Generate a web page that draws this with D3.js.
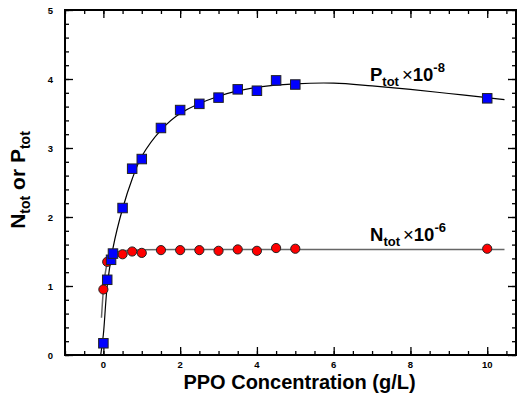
<!DOCTYPE html>
<html>
<head>
<meta charset="utf-8">
<script src="https://cdn.jsdelivr.net/npm/d3@7"></script>
<style>
    body { margin: 0; background: #fff; }
    svg text { font-family: "Liberation Sans", Arial, sans-serif; font-weight: bold; }
</style>
</head>
<body>
<div id="chart"></div>
<script>
// data
const pConc = [0, 0.1, 0.2, 0.25, 0.5, 0.75, 1, 1.5, 2, 2.5, 3, 3.5, 4, 4.5, 5, 10];
const pTot = [0.17, 1.09, 1.38, 1.47, 2.13, 2.70, 2.84, 3.29, 3.55, 3.64, 3.73, 3.85, 3.83, 3.98, 3.92, 3.72];

const nConc = [0, 0.1, 0.5, 0.75, 1, 1.5, 2, 2.5, 3, 3.5, 4, 4.5, 5, 10];
const nTot = [0.95, 1.35, 1.46, 1.50, 1.48, 1.52, 1.52, 1.52, 1.51, 1.53, 1.51, 1.55, 1.54, 1.54];

// fitted curves
const pFitX = [-0.07, 0, 0.1, 0.25, 0.5, 0.75, 1, 1.5, 2, 3, 4, 5, 6, 7, 8, 9, 10, 10.45];
const pFitY = [0, 0.3, 1.0, 1.55, 2.12, 2.55, 2.88, 3.26, 3.5, 3.75, 3.88, 3.93, 3.94, 3.9, 3.85, 3.79, 3.73, 3.70];

const nFitX = [-0.05, 0, 0.1, 0.2, 0.3, 0.5, 1, 2, 5, 10.45];
const nFitY = [0.54, 0.95, 1.33, 1.44, 1.48, 1.51, 1.525, 1.53, 1.53, 1.53];

const xMajor = [0, 2, 4, 6, 8, 10];
const xMinor = d3.range(-1, 10.75, 0.5);
const yMajor = [0, 1, 2, 3, 4, 5];
const yMinor = d3.range(0, 5.01, 0.2);

const svgWidth = 525, svgHeight = 397;
const margin = { left: 65, right: 9, top: 10, bottom: 42 };
const width = svgWidth - margin.right;
const height = svgHeight - margin.bottom;

const svg = d3.select("#chart")
    .append("svg")
    .attr("width", svgWidth)
    .attr("height", svgHeight);

const x = d3.scaleLinear().domain([-1, 10.75]).range([margin.left, width]);
const y = d3.scaleLinear().domain([0, 5]).range([height, margin.top]);

// frame
svg.append("rect")
    .attr("x", margin.left)
    .attr("y", margin.top)
    .attr("width", width - margin.left)
    .attr("height", height - margin.top)
    .attr("fill", "none")
    .attr("stroke", "#000")
    .attr("stroke-width", 2);

// helper for inward ticks
function ticks(axis, scaleFn, values, len, transform) {
    const g = svg.append("g").attr("transform", transform);
    g.call(axis(scaleFn).tickValues(values).tickSize(len).tickFormat(""));
    g.select(".domain").remove();
    g.selectAll(".tick line").attr("stroke", "#000").attr("stroke-width", 1.3);
    return g;
}

// bottom
ticks(d3.axisBottom, x, xMinor, -4, `translate(0,${height})`);
ticks(d3.axisBottom, x, xMajor, -8, `translate(0,${height})`);
// top
ticks(d3.axisTop, x, xMinor, -4, `translate(0,${margin.top})`);
ticks(d3.axisTop, x, xMajor, -8, `translate(0,${margin.top})`);
// left
ticks(d3.axisLeft, y, yMinor, -4, `translate(${margin.left},0)`);
ticks(d3.axisLeft, y, yMajor, -8, `translate(${margin.left},0)`);
// right
ticks(d3.axisRight, y, yMinor, -4, `translate(${width},0)`);
ticks(d3.axisRight, y, yMajor, -8, `translate(${width},0)`);

// tick labels
svg.append("g").selectAll("text")
    .data(xMajor)
    .enter().append("text")
    .attr("x", d => x(d))
    .attr("y", height + 13)
    .attr("text-anchor", "middle")
    .style("font-size", "9.5px")
    .text(d => d);

svg.append("g").selectAll("text")
    .data(yMajor)
    .enter().append("text")
    .attr("x", margin.left - 12)
    .attr("y", d => y(d) + 3.5)
    .attr("text-anchor", "end")
    .style("font-size", "9.5px")
    .text(d => d);

// fitted lines
const nLine = d3.line().x(d => x(d[0])).y(d => y(d[1])).curve(d3.curveMonotoneX);
svg.append("path")
    .datum(d3.zip(nFitX, nFitY))
    .attr("fill", "none")
    .attr("stroke", "#666")
    .attr("stroke-width", 1.5)
    .attr("d", nLine);

const pLine = d3.line().x(d => x(d[0])).y(d => y(d[1])).curve(d3.curveCatmullRom);
svg.append("path")
    .datum(d3.zip(pFitX, pFitY))
    .attr("fill", "none")
    .attr("stroke", "#000")
    .attr("stroke-width", 1.2)
    .attr("d", pLine);

// N points
svg.append("g").selectAll("circle")
    .data(d3.zip(nConc, nTot))
    .enter().append("circle")
    .attr("cx", d => x(d[0]))
    .attr("cy", d => y(d[1]))
    .attr("r", 4.6)
    .attr("fill", "#ff0000")
    .attr("stroke", "#222")
    .attr("stroke-width", 1);

// P points
const sq = 9.5;
svg.append("g").selectAll("rect")
    .data(d3.zip(pConc, pTot))
    .enter().append("rect")
    .attr("x", d => x(d[0]) - sq / 2)
    .attr("y", d => y(d[1]) - sq / 2)
    .attr("width", sq)
    .attr("height", sq)
    .attr("fill", "#0000ff")
    .attr("stroke", "#222")
    .attr("stroke-width", 1);

// curve labels
function seriesLabel(letter, exp, xPos, yPos) {
    const t = svg.append("text")
        .attr("x", xPos)
        .attr("y", yPos)
        .style("font-size", "18.5px");
    t.append("tspan").text(letter);
    t.append("tspan").attr("dy", 5).style("font-size", "13px").text("tot");
    t.append("tspan").attr("dy", -5).attr("dx", 3).style("font-weight", "normal").text("\u00d7");
    t.append("tspan").text("10");
    t.append("tspan").attr("dy", -9).style("font-size", "13px").text(exp);
}
seriesLabel("P", "-8", 370, 81);
seriesLabel("N", "-6", 370, 241);

// axis titles
svg.append("text")
    .attr("x", (181 + 418) / 2)
    .attr("y", 389)
    .attr("text-anchor", "middle")
    .style("font-size", "20px")
    .text("PPO Concentration (g/L)");

const yl = svg.append("text")
    .attr("transform", "translate(25,180) rotate(-90)")
    .attr("text-anchor", "middle")
    .style("font-size", "21px");
yl.append("tspan").text("N");
yl.append("tspan").attr("dy", 5).style("font-size", "14px").text("tot");
yl.append("tspan").attr("dy", -5).text("  or  ");
yl.append("tspan").text("P");
yl.append("tspan").attr("dy", 5).style("font-size", "14px").text("tot");
</script>
</body>
</html>
